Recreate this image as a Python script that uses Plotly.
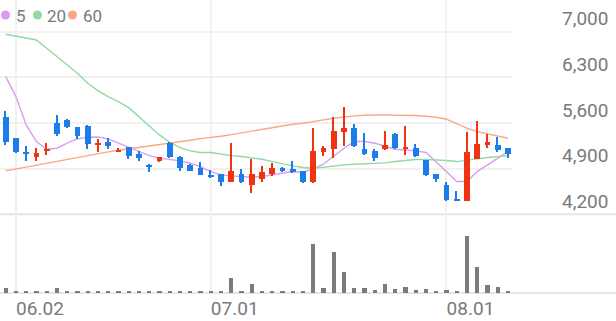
import plotly.graph_objects as go

# ---------------- data ----------------
dates = [
    "2025-05-30", "2025-06-02", "2025-06-04", "2025-06-05", "2025-06-09", "2025-06-10",
    "2025-06-11", "2025-06-12", "2025-06-13", "2025-06-16", "2025-06-17", "2025-06-18",
    "2025-06-19", "2025-06-20", "2025-06-23", "2025-06-24", "2025-06-25", "2025-06-26",
    "2025-06-27", "2025-06-30", "2025-07-01", "2025-07-02", "2025-07-03", "2025-07-04",
    "2025-07-07", "2025-07-08", "2025-07-09", "2025-07-10", "2025-07-11", "2025-07-14",
    "2025-07-15", "2025-07-16", "2025-07-17", "2025-07-18", "2025-07-21", "2025-07-22",
    "2025-07-23", "2025-07-24", "2025-07-25", "2025-07-28", "2025-07-29", "2025-07-30",
    "2025-07-31", "2025-08-01", "2025-08-04", "2025-08-05", "2025-08-06", "2025-08-07",
    "2025-08-08", "2025-08-11",
]
opens = [5690, 5365, 5155, 5070, 5170, 5605, 5650, 5530, 5555, 5255,
         5315, 5160, 5225, 5120, 4955, 5020, 5290, 5075, 4955, 4915,
         4805, 4820, 4700, 4815, 4640, 4740, 4820, 4905, 4890, 4855,
         4690, 5155, 5195, 5465, 5520, 5200, 5170, 5195, 5425, 5210,
         5220, 5035, 4820, 4650, 4425, 4395, 5045, 5275, 5255, 5215]
highs = [5785, 5365, 5240, 5220, 5290, 5715, 5660, 5530, 5570, 5350,
         5365, 5220, 5225, 5170, 4965, 5080, 5305, 5085, 4965, 5005,
         4880, 4820, 5290, 4895, 5050, 4945, 4990, 4920, 5020, 4865,
         5520, 5250, 5695, 5850, 5580, 5440, 5200, 5480, 5440, 5555,
         5275, 5035, 4820, 4690, 4560, 5455, 5630, 5425, 5390, 5215]
lows = [5265, 5135, 5020, 5010, 5110, 5400, 5520, 5350, 5195, 5150,
        5200, 5150, 5050, 5020, 4845, 5000, 5060, 4865, 4855, 4795,
        4760, 4625, 4700, 4675, 4520, 4700, 4780, 4845, 4830, 4680,
        4680, 5085, 5060, 5240, 5225, 5115, 5020, 5185, 5200, 5110,
        5075, 4790, 4700, 4405, 4405, 4395, 5045, 5220, 5150, 5060]
closes = [5315, 5160, 5120, 5135, 5205, 5425, 5530, 5400, 5275, 5290,
          5250, 5180, 5095, 5060, 4925, 5075, 5070, 4915, 4865, 4805,
          4780, 4700, 4855, 4690, 4820, 4840, 4915, 4855, 4840, 4690,
          5170, 5210, 5480, 5520, 5240, 5125, 5060, 5265, 5210, 5230,
          5085, 4805, 4735, 4415, 4405, 5150, 5275, 5305, 5180, 5125]
ma5 = [6310, 6004, 5570, 5314, 5197, 5212, 5289, 5355, 5380, 5385,
       5355, 5289, 5222, 5161, 5099, 5059, 5043, 5018, 4982, 4931,
       4854, 4803, 4788, 4778, 4767, 4778, 4803, 4839, 4854, 4839,
       4895, 4967, 5084, 5212, 5314, 5314, 5289, 5238, 5197, 5184,
       5171, 5146, 5007, 4854, 4701, 4701, 4854, 4956, 5059, 5161]
ma20 = [6960, 6934, 6908, 6873, 6745, 6617, 6489, 6362, 6208, 6096,
        6004, 5927, 5835, 5697, 5544, 5416, 5304, 5222, 5171, 5146,
        5146, 5120, 5099, 5084, 5069, 5043, 5007, 4972, 4941, 4916,
        4905, 4921, 4941, 4956, 4967, 4972, 4972, 4987, 5007, 5028,
        5038, 5038, 5033, 5023, 5007, 5023, 5048, 5069, 5084, 5099]
ma60 = [4865, 4895, 4921, 4951, 4982, 5007, 5038, 5064, 5094, 5125,
        5156, 5181, 5202, 5222, 5243, 5263, 5289, 5314, 5334, 5360,
        5375, 5396, 5421, 5447, 5478, 5503, 5534, 5559, 5580, 5595,
        5626, 5646, 5672, 5692, 5708, 5718, 5723, 5723, 5718, 5718,
        5713, 5703, 5687, 5657, 5585, 5519, 5467, 5432, 5401, 5365]
volume = [14, 5, 4, 4, 5, 15, 6, 4, 4, 3, 3, 3, 3, 3, 3, 3, 4, 3, 3, 3,
          4, 4, 45, 6, 25, 6, 5, 4, 6, 4, 147, 15, 123, 64, 14, 13, 7, 26, 10, 18,
          7, 10, 6, 8, 5, 173, 77, 23, 16, 4]
volume = [v * 10000 for v in volume]

tick_dates = ["2025-06-02", "2025-07-01", "2025-08-01"]
tick_text = ["06.02", "07.01", "08.01"]
price_ticks = [4200, 4900, 5600, 6300, 7000]
price_text = ["{:,}".format(v) for v in price_ticks]
ma_names = ["5", "20", "60"]

# ---------------- style ----------------
UP = "#ee3412"
DOWN = "#1c7ce9"
MA_COLORS = ["#d89df1", "#92d9a2", "#fba783"]
GRID = "#f1f1f1"
SEP = "#e6e6e6"
TXT = "#7a7a7a"
FONT = "Roboto, sans-serif"

W, H = 616, 321
ML, MR, MT, MB = 0, 104, 0, 28
plot_w = W - ML - MR
plot_h = H - MT - MB
sep_px = 214.3                       # page y of pane separator
split = (plot_h - sep_px) / plot_h   # paper fraction
px_per_unit = 45.65 / 700.0
price_top = 4200 + sep_px / px_per_unit

colors = [UP if c >= o else DOWN for o, c in zip(opens, closes)]
body_base = [min(o, c) for o, c in zip(opens, closes)]
body_h = [max(abs(c - o), 12) for o, c in zip(opens, closes)]
wick_h = [h - l for h, l in zip(highs, lows)]

fig = go.Figure()

# moving averages (below candles)
for name, ma, col in zip(ma_names, [ma5, ma20, ma60], MA_COLORS):
    fig.add_trace(go.Scatter(x=dates, y=ma, mode="lines", name=name,
                             line=dict(color=col, width=1.4),
                             xaxis="x", yaxis="y", showlegend=False, hoverinfo="skip"))

# candles on overlaying axis so they sit above MA lines
fig.add_trace(go.Bar(x=dates, y=wick_h, base=lows, width=0.14,
                     marker=dict(color=colors, line_width=0),
                     xaxis="x", yaxis="y3", showlegend=False))
fig.add_trace(go.Bar(x=dates, y=body_h, base=body_base, width=0.56,
                     marker=dict(color=colors, line_width=0),
                     xaxis="x", yaxis="y3", showlegend=False))

# volume
fig.add_trace(go.Bar(x=dates, y=volume, width=0.42,
                     marker=dict(color="#7b7b7b", line_width=0),
                     xaxis="x2", yaxis="y2", showlegend=False))

xrange = [-ML - 5.7 / 10.25, -5.7 / 10.25 + plot_w / 10.25]

common_x = dict(type="category", range=xrange, tickmode="array", tickvals=tick_dates,
                showgrid=True, gridcolor=GRID, gridwidth=1.5, showline=False,
                zeroline=False, ticks="", fixedrange=True)

fig.update_layout(
    width=W, height=H,
    margin=dict(l=ML, r=MR, t=MT, b=MB, pad=0),
    paper_bgcolor="white", plot_bgcolor="white",
    font=dict(family=FONT, color=TXT),
    barmode="overlay", bargap=0,
    showlegend=False,
    xaxis=dict(common_x, anchor="y", domain=[0, 1], showticklabels=False),
    xaxis2=dict(common_x, anchor="y2", domain=[0, 1], matches="x",
                ticktext=tick_text, showticklabels=True,
                tickfont=dict(size=19, color=TXT, family=FONT),
                ticklabelshift=24, ticklabelstandoff=2),
    yaxis=dict(domain=[split, 1], range=[4198, price_top], side="right",
               tickmode="array", tickvals=price_ticks, ticktext=price_text,
               showgrid=True, gridcolor=GRID, gridwidth=2, zeroline=False,
               showline=False, ticks="", tickfont=dict(size=19, color=TXT, family=FONT),
               ticklabelstandoff=49, ticklabelshift=-13, fixedrange=True),
    yaxis3=dict(overlaying="y", range=[4198, price_top], visible=False, fixedrange=True),
    yaxis2=dict(domain=[0, split], range=[0, 239 * 10000], showgrid=False,
                showticklabels=False, zeroline=False, showline=False, fixedrange=True),
)

# pane separator and bottom baseline (full width)
for yy in [split, 0]:
    fig.add_shape(type="line", xref="paper", yref="paper",
                  x0=0, x1=W / plot_w, y0=yy, y1=yy,
                  line=dict(color=SEP, width=2), layer="below")

# legend: coloured dots + labels
dot_x = [1, 33, 68]
lab_x = [15, 46, 82]
for name, col, dx, lx in zip(ma_names, MA_COLORS, dot_x, lab_x):
    fig.add_shape(type="circle", xref="paper", yref="paper",
                  xsizemode="pixel", ysizemode="pixel", xanchor=0, yanchor=1,
                  x0=dx, x1=dx + 9, y0=-10.5, y1=-19.5,
                  fillcolor=col, line=dict(width=0))
    fig.add_annotation(text=name, xref="paper", yref="paper",
                       x=lx / plot_w, y=1 - 16 / plot_h, xanchor="left", yanchor="middle",
                       showarrow=False, font=dict(size=17, color=TXT, family=FONT),
                       borderpad=0)

fig.write_html("out.html")
